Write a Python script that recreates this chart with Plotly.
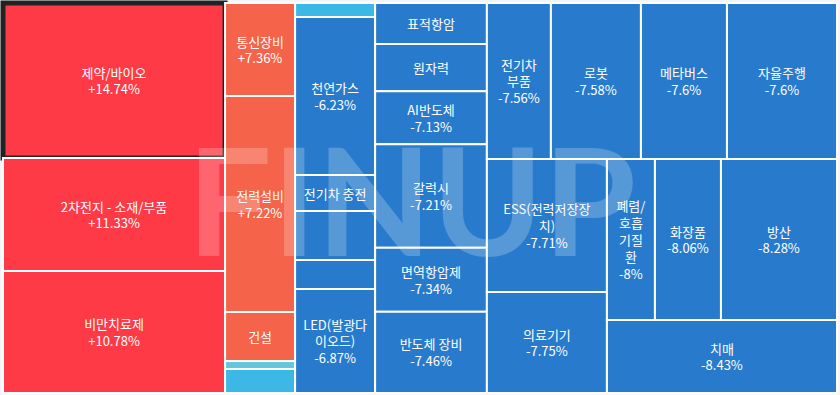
import plotly.graph_objects as go

# ---- data (order = layout order, sorted by change) ----
tile_ids = [f"t{i:02d}" for i in range(1, 31)]
names = ["제약/바이오", "2차전지 - 소재/부품", "비만치료제", "통신장비", "전력설비", "건설",
         "", "", "", "천연가스", "전기차 충전", "", "", "LED(발광다이오드)",
         "표적항암", "원자력", "AI반도체", "갈럭시", "면역항암제", "반도체 장비",
         "전기차 부품", "로봇", "메타버스", "자율주행", "ESS(전력저장장치)", "의료기기",
         "폐렴/호흡기질환", "화장품", "방산", "치매"]
# display labels as wrapped in the picture
display_names = ["제약/바이오", "2차전지 - 소재/부품", "비만치료제", "통신장비", "전력설비", "건설",
                 "", "", "", "천연가스", "전기차 충전", "", "", "LED(발광다<br>이오드)",
                 "표적항암", "원자력", "AI반도체", "갈럭시", "면역항암제", "반도체 장비",
                 "전기차<br>부품", "로봇", "메타버스", "자율주행", "ESS(전력저장장<br>치)", "의료기기",
                 "폐렴/<br>호흡<br>기질<br>환", "화장품", "방산", "치매"]
changes = [14.74, 11.33, 10.78, 7.36, 7.22, None,
           None, None, None, -6.23, None, None, None, -6.87,
           None, None, -7.13, -7.21, -7.34, -7.46,
           -7.56, -7.58, -7.6, -7.6, -7.71, -7.75,
           -8, -8.06, -8.28, -8.43]
sizes = [34410, 25086, 27084, 6510, 15120, 3430,
         560, 1680, 1120, 12640, 2880, 3920, 2320, 8320,
         4592, 5264, 5936, 11536, 7168, 9072,
         9984, 14040, 13416, 17160, 15960, 12120,
         7728, 10626, 18676, 16790]
tile_colors = ["#fe3a46", "#fe3a46", "#fe3a46", "#f5634a", "#f5634a", "#f5634a",
               "#66c7dc", "#3cb8e6", "#3cb8e6", "#287bcc", "#287bcc", "#287bcc", "#287bcc", "#287bcc",
               "#287bcc", "#287bcc", "#287bcc", "#287bcc", "#287bcc", "#287bcc",
               "#287bcc", "#287bcc", "#287bcc", "#287bcc", "#287bcc", "#287bcc",
               "#287bcc", "#287bcc", "#287bcc", "#287bcc"]


def fmt(v):
    if v is None:
        return ""
    s = f"{v:+.2f}".rstrip("0").rstrip(".")
    return s + "%"


# tiles where only the name fits
name_only = {"건설", "전기차 충전", "표적항암", "원자력"}
texts = []
for n, d, c in zip(names, display_names, changes):
    if d == "":
        texts.append("")
    elif n in name_only or c is None:
        texts.append(d)
    else:
        texts.append(f"{d}<br>{fmt(c)}")

line_colors = ["#222222"] + ["white"] * (len(names) - 1)
line_widths = [5] + [2] * (len(names) - 1)

fig = go.Figure(go.Treemap(
    ids=tile_ids,
    labels=names,
    parents=[""] * len(names),
    values=sizes,
    text=texts,
    textinfo="text",
    customdata=[fmt(c) for c in changes],
    hovertemplate="%{label} %{customdata}<extra></extra>",
    sort=False,
    tiling=dict(packing="squarify", squarifyratio=1.618034, pad=0),
    marker=dict(colors=tile_colors, line=dict(color=line_colors, width=line_widths),
                pad=dict(t=0, l=0, r=0, b=0)),
    textposition="middle center",
    textfont=dict(family="Noto Sans CJK KR", size=13, color="white"),
    pathbar=dict(visible=False),
    domain=dict(x=[0, 1], y=[0, 1]),
))

fig.add_annotation(
    text="FINUP", x=0.49, y=0.50, xref="paper", yref="paper",
    showarrow=False,
    font=dict(family="Lato", size=150, color="rgba(255,255,255,0.22)", weight="bold"),
)

fig.update_layout(
    width=840, height=395,
    margin=dict(l=3, r=3, t=3, b=2),
    paper_bgcolor="#f3f5fa",
    showlegend=False,
)

fig.write_html("out.html", config={"displayModeBar": False},
               post_script="document.body.style.margin='0px';")
